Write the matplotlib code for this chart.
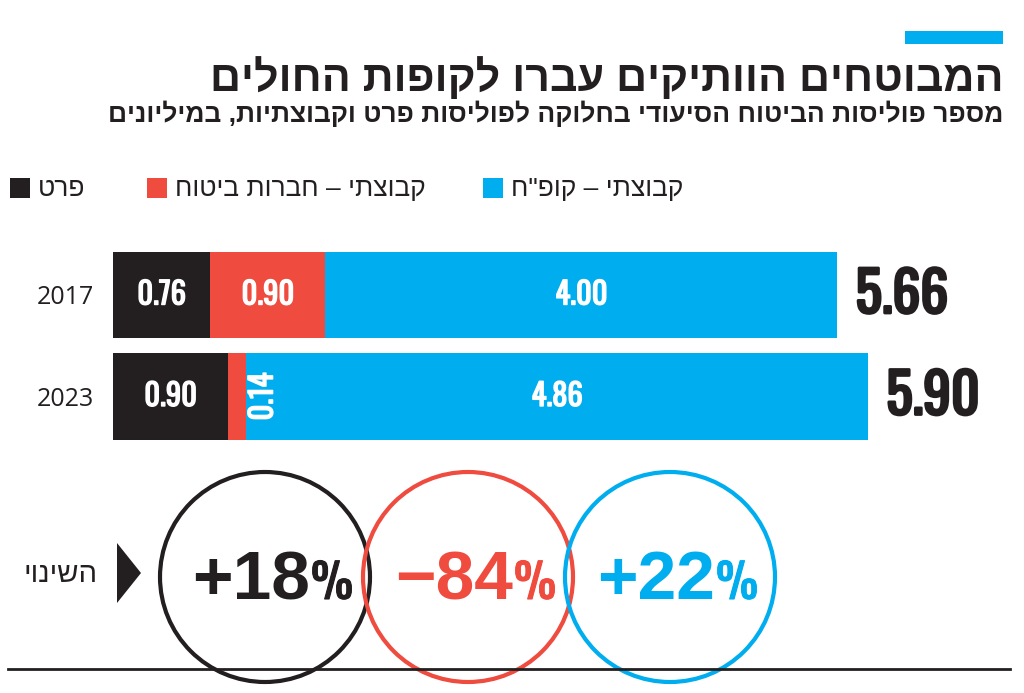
import matplotlib
matplotlib.use('Agg')
import matplotlib.pyplot as plt
from matplotlib.patches import Circle, Rectangle, Polygon
from matplotlib import font_manager
import matplotlib.patheffects as pe

# data (millions of policies)
years = ['2017', '2023']
prat = [0.76, 0.90]
kvutzati_bituach = [0.90, 0.14]
kvutzati_kupah = [4.00, 4.86]
totals = [5.66, 5.90]
change_num = ['+18', '−84', '+22']
series_names = ['פרט', 'קבוצתי – חברות ביטוח', 'קבוצתי – קופ"ח']
colors = ['#231f20', '#ef4b3f', '#00adef']

title = 'המבוטחים הוותיקים עברו לקופות החולים'
subtitle = 'מספר פוליסות הביטוח הסיעודי בחלוקה לפוליסות פרט וקבוצתיות, במיליונים'
change_label = 'השינוי'


def heb(s):
    # matplotlib has no bidi support, flip hebrew strings by hand
    return s[::-1]


names = {f.name for f in font_manager.fontManager.ttflist}
COND = [n for n in ['Oswald', 'Roboto Condensed'] if n in names] + ['Liberation Sans']
SANS = ['Liberation Sans', 'DejaVu Sans']
NUM = ['Open Sans', 'DejaVu Sans']
ink = '#231f20'


def heavy(c, w=1.6):
    # the condensed face only ships one weight here, thicken it a bit
    return [pe.withStroke(linewidth=w, foreground=c)]


W, H = 1024, 693
fig = plt.figure(figsize=(W / 100, H / 100), dpi=100)

# overlay in pixel coordinates for the decoration and texts
ov = fig.add_axes([0, 0, 1, 1])
ov.set_xlim(0, W)
ov.set_ylim(H, 0)
ov.axis('off')

ov.add_patch(Rectangle((905, 31), 98, 13, color=colors[2], lw=0))
ov.text(1003, 91, heb(title), ha='right', va='baseline', fontsize=31,
        fontweight='bold', family=SANS, color=ink)
ov.text(1003, 122, heb(subtitle), ha='right', va='baseline', fontsize=19,
        fontweight='bold', family=SANS, color=ink)

# legend, laid out right-to-left by hand
leg_x = [10, 147, 483]
for i in range(3):
    ov.add_patch(Rectangle((leg_x[i], 178), 20, 20, color=colors[i], lw=0))
    ov.text(leg_x[i] + 28, 189, heb(series_names[i]), ha='left', va='center',
            fontsize=19, family=SANS, color=ink)

# stacked bars
px = 128.0  # pixels per million
ax = fig.add_axes([113 / W, 1 - 447.25 / H, 911 / W, 203 / H])
ax.set_xlim(0, 911 / px)
ax.set_ylim(1.5, -0.5)
ypos = [0, 1]
ax.barh(ypos, prat, height=0.85, color=colors[0], lw=0)
ax.barh(ypos, kvutzati_bituach, left=prat, height=0.85, color=colors[1], lw=0)
left2 = [a + b for a, b in zip(prat, kvutzati_bituach)]
ax.barh(ypos, kvutzati_kupah, left=left2, height=0.85, color=colors[2], lw=0)
for sp in ax.spines.values():
    sp.set_visible(False)
ax.set_xticks([])
ax.set_yticks(ypos, years)
ax.tick_params(axis='y', length=0, pad=14, labelsize=18, labelcolor=ink)
for t in ax.get_yticklabels():
    t.set_family(NUM)

lab = dict(color='white', fontsize=22, fontweight='bold', family=COND,
           ha='center', va='center', path_effects=heavy('white', 1.0))
for i in ypos:
    ax.text(prat[i] / 2, i, '%.2f' % prat[i], **lab)
    if kvutzati_bituach[i] > 0.5:
        ax.text(prat[i] + kvutzati_bituach[i] / 2, i, '%.2f' % kvutzati_bituach[i], **lab)
    else:
        ax.text(left2[i] + 17 / px, i, '%.2f' % kvutzati_bituach[i], rotation=90, **lab)
    ax.text(left2[i] + kvutzati_kupah[i] / 2, i, '%.2f' % kvutzati_kupah[i], **lab)
    ax.text(totals[i] + 18 / px, i, '%.2f' % totals[i], ha='left', va='center',
            fontsize=40, fontweight='bold', family=COND, color=ink,
            path_effects=heavy(ink, 2))

# change circles
ov.plot([8, 1010], [669, 669], color=ink, lw=2)
ov.text(97, 574, heb(change_label), ha='right', va='center', fontsize=21,
        family=SANS, color=ink)
ov.add_patch(Polygon([[117, 543], [141, 573], [117, 603]], closed=True, color=ink, lw=0))
cx = [265, 468, 670]
for i in range(3):
    ov.add_patch(Circle((cx[i], 577), 105, fill=False, ec=colors[i], lw=3))
    ov.text(cx[i] + 45, 599, change_num[i], ha='right', va='baseline', fontsize=50,
            fontweight='bold', family=SANS, color=colors[i])
    ov.text(cx[i] + 46, 599, '%', ha='left', va='baseline', fontsize=34,
            fontweight='bold', family=COND, color=colors[i],
            path_effects=heavy(colors[i], 0.8))

fig.savefig('out.png', dpi=100)
